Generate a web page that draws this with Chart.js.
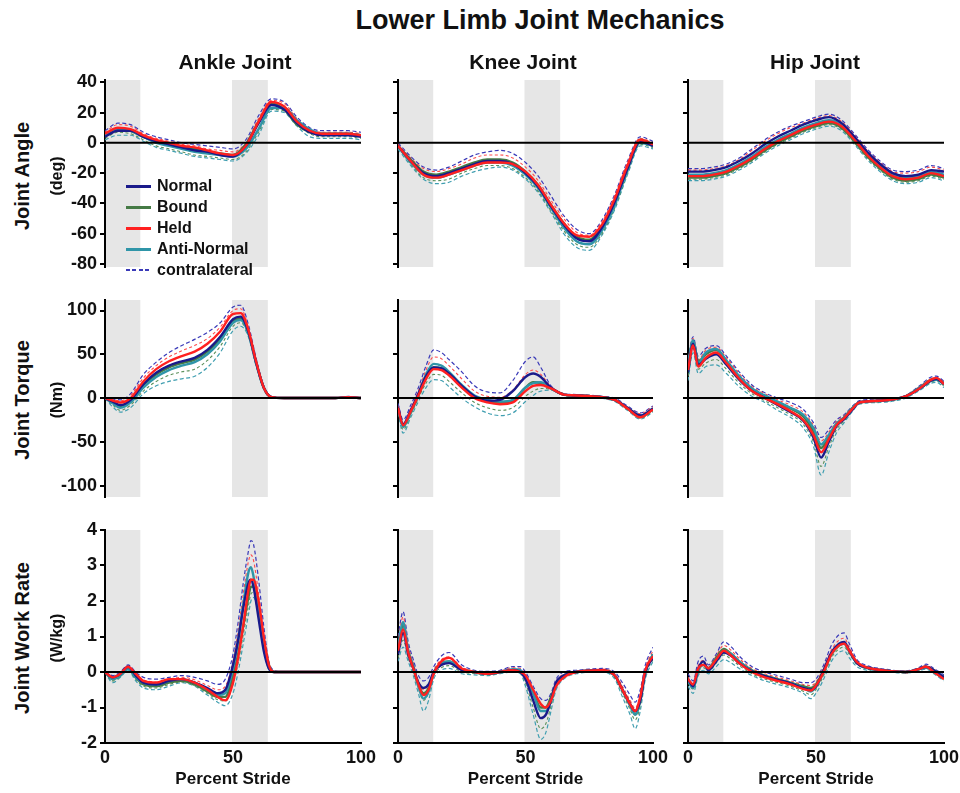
<!DOCTYPE html>
<html><head><meta charset="utf-8">
<script src="https://cdn.jsdelivr.net/npm/chart.js@4.4.1/dist/chart.umd.min.js"></script>
<style>
body{margin:0;background:#fff;width:960px;height:793px;position:relative;overflow:hidden;font-family:'Liberation Sans',Arial,Helvetica,sans-serif;}
canvas{position:absolute;}
.t{position:absolute;font-weight:bold;color:#111;white-space:nowrap;transform:translate(-50%,-50%);}
.r{position:absolute;font-weight:bold;color:#111;white-space:nowrap;transform:translate(-50%,-50%) rotate(-90deg);}
.lg{position:absolute;font-weight:bold;color:#111;font-size:16px;white-space:nowrap;transform:translateY(-50%);}
.sw{position:absolute;width:25px;}
</style></head><body>
<script>
// ---------------- DATA ----------------
const CHART_TITLE = 'Lower Limb Joint Mechanics';
const COLUMN_TITLES = ['Ankle Joint', 'Knee Joint', 'Hip Joint'];
const ROW_TITLES = ['Joint Angle', 'Joint Torque', 'Joint Work Rate'];
const ROW_UNITS = ['(deg)', '(Nm)', '(W/kg)'];
const X_TITLE = 'Percent Stride';
const SERIES_NAMES = ['Normal', 'Bound', 'Held', 'Anti-Normal', 'contralateral'];
const ANGLE_TICKS = [-80, -60, -40, -20, 0, 20, 40];
const TORQUE_TICKS = [-100, -50, 0, 50, 100];
const POWER_TICKS = [-2, -1, 0, 1, 2, 3, 4];
const STRIDE_TICKS = [0, 50, 100];
const STANCE_BANDS = [[0, 13.8], [49.6, 63.6]];

const GRID5 = [0, 5, 10, 15, 20, 25, 30, 35, 40, 45, 50, 55, 60, 65, 70, 75, 80, 85, 90, 95, 100];

// Ankle angle (deg)
const ANKLE_ANGLE_NORMAL = [4, 8, 8, 4, 1, -1, -3, -5, -6, -8, -9, -2, 13, 25, 22, 13, 7, 5, 5, 5, 4];
const ANKLE_ANGLE_BOUND  = [5, 9, 8, 4, 1, -1, -3, -4, -6, -7, -8, -1, 14, 26, 22, 12, 7, 6, 6, 6, 5];
const ANKLE_ANGLE_HELD   = [6, 10, 9, 5, 2, 0, -2, -3, -5, -7, -8, -2, 14, 27, 24, 14, 8, 6, 6, 6, 5];
const ANKLE_ANGLE_ANTI   = [5, 9, 8, 4, 0, -2, -4, -6, -7, -8, -9, -4, 9, 23, 23, 15, 9, 6, 6, 6, 5];
const ANKLE_ANGLE_CONTRA_HI = [8, 13, 12, 7, 4, 2, 0, -1, -2, -3, -4, 2, 18, 29, 27, 17, 10, 8, 8, 8, 7];
const ANKLE_ANGLE_CONTRA_LO = [2, 5, 5, 1, -3, -5, -7, -9, -10, -11, -12, -7, 5, 21, 20, 11, 4, 3, 3, 3, 2];
const ANKLE_ANGLE_SD_HI = [7, 12, 11, 6, 3, 1, -1, -2, -4, -5, -6, 0, 16, 28, 26, 16, 9, 7, 7, 7, 6];
const ANKLE_ANGLE_SD_LO = [3, 7, 6, 2, -2, -4, -6, -8, -9, -10, -11, -6, 7, 22, 21, 13, 6, 4, 4, 4, 3];

// Knee angle (deg)
const KNEE_ANGLE_NORMAL = [-2, -12, -20, -22, -20, -17, -14, -12, -12, -14, -20, -29, -42, -54, -63, -65, -56, -39, -17, 1, -2];
const KNEE_ANGLE_BOUND  = [-2, -11, -19, -21, -19, -16, -13, -11, -11, -13, -19, -28, -41, -53, -62, -64, -55, -38, -16, 2, -1];
const KNEE_ANGLE_HELD   = [-2, -12, -21, -23, -21, -18, -15, -13, -13, -14, -19, -28, -41, -53, -61, -62, -54, -37, -15, 2, -1];
const KNEE_ANGLE_ANTI   = [-2, -13, -21, -23, -21, -18, -15, -13, -13, -15, -21, -30, -43, -56, -65, -67, -58, -41, -18, 0, -2];
const KNEE_ANGLE_CONTRA_HI = [0, -9, -16, -18, -16, -12, -8, -6, -5, -7, -13, -22, -35, -48, -57, -60, -51, -34, -12, 4, 1];
const KNEE_ANGLE_CONTRA_LO = [-4, -15, -24, -27, -26, -22, -19, -17, -16, -18, -24, -33, -46, -60, -69, -71, -61, -44, -21, -2, -4];
const KNEE_ANGLE_SD_HI = [-1, -10, -17, -19, -17, -14, -10, -8, -8, -10, -16, -25, -38, -50, -59, -61, -52, -35, -13, 3, 0];
const KNEE_ANGLE_SD_LO = [-3, -14, -23, -25, -24, -20, -17, -15, -15, -17, -23, -32, -45, -58, -67, -69, -60, -43, -20, -1, -3];

// Hip angle (deg)
const HIP_ANGLE_NORMAL = [-19, -19, -18, -16, -12, -7, -1, 4, 8, 12, 15, 17, 13, 4, -6, -14, -20, -22, -21, -18, -19];
const HIP_ANGLE_BOUND  = [-23, -23, -22, -20, -16, -11, -5, 0, 4, 8, 11, 13, 10, 1, -9, -17, -23, -25, -24, -21, -23];
const HIP_ANGLE_HELD   = [-22, -22, -21, -19, -15, -10, -4, 1, 5, 9, 12, 14, 11, 2, -8, -16, -22, -24, -23, -20, -22];
const HIP_ANGLE_ANTI   = [-21, -21, -20, -18, -14, -9, -3, 2, 6, 10, 13, 15, 12, 3, -7, -15, -21, -23, -22, -19, -21];
const HIP_ANGLE_CONTRA_HI = [-17, -17, -16, -14, -10, -4, 2, 7, 11, 14, 17, 19, 15, 6, -4, -12, -18, -19, -18, -15, -17];
const HIP_ANGLE_CONTRA_LO = [-25, -25, -24, -22, -18, -13, -7, -2, 2, 6, 9, 11, 8, -1, -11, -19, -25, -27, -26, -23, -25];
const HIP_ANGLE_SD_HI = [-18, -18, -17, -15, -11, -5, 1, 6, 10, 13, 16, 18, 14, 5, -5, -13, -19, -20, -19, -16, -18];
const HIP_ANGLE_SD_LO = [-24, -24, -23, -21, -17, -12, -6, -1, 3, 7, 10, 12, 9, 0, -10, -18, -24, -26, -25, -22, -24];

// Ankle torque (Nm)
const ANKLE_TORQUE_X = [0, 3, 6, 10, 15, 20, 25, 30, 35, 40, 45, 50, 53, 56, 59, 62, 65, 70, 80, 90, 95, 100];
const ANKLE_TORQUE_NORMAL = [0, -4, -8, -2, 16, 29, 37, 42, 46, 55, 70, 90, 93, 76, 41, 12, 1, 0, 0, 0, 1, 0];
const ANKLE_TORQUE_BOUND  = [0, -5, -9, -3, 15, 27, 35, 40, 44, 53, 68, 88, 91, 75, 41, 12, 1, 0, 0, 0, 1, 0];
const ANKLE_TORQUE_HELD   = [0, -3, -5, 0, 19, 33, 42, 48, 53, 62, 76, 96, 97, 78, 42, 12, 1, 0, 0, 0, 1, 0];
const ANKLE_TORQUE_ANTI   = [0, -6, -11, -5, 12, 24, 32, 37, 41, 50, 65, 86, 89, 74, 40, 12, 1, 0, 0, 0, 1, 0];
const ANKLE_TORQUE_CONTRA_HI = [0, -1, -2, 5, 27, 41, 52, 60, 67, 75, 86, 104, 106, 84, 46, 14, 2, 0, 0, 0, 2, 0];
const ANKLE_TORQUE_CONTRA_LO = [0, -10, -16, -11, 5, 14, 19, 22, 25, 35, 52, 77, 82, 70, 37, 10, 0, 0, 0, 0, 0, 0];
const ANKLE_TORQUE_SD_HI = [0, -2, -3, 3, 23, 37, 47, 54, 60, 68, 81, 100, 102, 81, 44, 13, 1, 0, 0, 0, 1, 0];
const ANKLE_TORQUE_SD_LO = [0, -8, -14, -8, 8, 19, 26, 30, 33, 43, 59, 82, 86, 72, 39, 11, 0, 0, 0, 0, 1, 0];

// Knee torque (Nm)
const KNEE_TORQUE_X = [0, 2, 5, 8, 11, 14, 17, 20, 25, 30, 35, 40, 45, 50, 53, 56, 60, 65, 70, 80, 85, 90, 95, 100];
const KNEE_TORQUE_NORMAL = [-10, -30, -14, 5, 25, 35, 34, 28, 14, 2, -3, -2, 8, 24, 28, 24, 12, 4, 3, 1, -2, -11, -20, -12];
const KNEE_TORQUE_BOUND  = [-12, -32, -16, 3, 24, 35, 34, 28, 13, 1, -4, -5, -3, 12, 18, 17, 11, 4, 3, 1, -2, -12, -21, -13];
const KNEE_TORQUE_HELD   = [-11, -31, -15, 3, 22, 33, 32, 26, 12, 0, -5, -7, -5, 8, 14, 15, 11, 4, 3, 1, -2, -12, -22, -13];
const KNEE_TORQUE_ANTI   = [-12, -33, -16, 4, 27, 39, 37, 30, 15, 3, -2, -4, -2, 12, 17, 18, 11, 4, 3, 1, -2, -11, -20, -12];
const KNEE_TORQUE_CONTRA_HI = [-6, -25, -8, 12, 37, 55, 52, 44, 30, 14, 7, 6, 20, 42, 47, 35, 14, 5, 4, 2, 0, -9, -17, -9];
const KNEE_TORQUE_CONTRA_LO = [-16, -40, -22, -4, 12, 21, 20, 13, 0, -10, -17, -20, -17, -4, 3, 8, 9, 3, 2, 0, -4, -14, -24, -16];
const KNEE_TORQUE_SD_HI = [-9, -29, -12, 8, 32, 47, 45, 37, 22, 8, 2, 1, 9, 27, 32, 27, 13, 5, 3, 1, -1, -10, -18, -10];
const KNEE_TORQUE_SD_LO = [-14, -36, -19, 0, 17, 27, 26, 19, 6, -5, -11, -14, -11, 2, 8, 11, 10, 3, 2, 0, -3, -13, -23, -15];

// Hip torque (Nm)
const HIP_TORQUE_X = [0, 2, 4, 7, 11, 15, 20, 25, 30, 35, 40, 45, 49, 52, 55, 58, 61, 64, 67, 75, 85, 90, 95, 97, 100];
const HIP_TORQUE_NORMAL = [30, 62, 38, 45, 50, 38, 21, 8, 0, -8, -16, -26, -45, -68, -50, -32, -24, -14, -5, -3, 2, 10, 20, 22, 16];
const HIP_TORQUE_BOUND  = [35, 65, 42, 50, 55, 42, 24, 10, 2, -5, -12, -21, -38, -57, -44, -30, -22, -12, -5, -3, 2, 11, 21, 22, 17];
const HIP_TORQUE_HELD   = [32, 60, 36, 46, 52, 40, 22, 8, 0, -7, -15, -25, -42, -62, -47, -31, -23, -13, -5, -3, 2, 10, 21, 23, 16];
const HIP_TORQUE_ANTI   = [38, 66, 40, 52, 56, 43, 25, 11, 3, -4, -11, -19, -34, -53, -42, -29, -22, -12, -5, -3, 2, 11, 20, 21, 16];
const HIP_TORQUE_CONTRA_HI = [45, 70, 48, 57, 60, 48, 30, 15, 6, 0, -5, -13, -28, -45, -36, -25, -19, -10, -3, -1, 3, 13, 24, 25, 19];
const HIP_TORQUE_CONTRA_LO = [20, 52, 28, 36, 38, 28, 13, 2, -5, -14, -22, -34, -55, -88, -62, -40, -28, -16, -7, -5, 0, 8, 17, 18, 12];
const HIP_TORQUE_SD_HI = [42, 68, 44, 55, 58, 46, 28, 13, 5, -2, -8, -16, -31, -49, -39, -27, -20, -11, -4, -2, 2, 12, 22, 23, 18];
const HIP_TORQUE_SD_LO = [25, 57, 33, 40, 44, 33, 17, 5, -3, -11, -19, -30, -50, -78, -56, -36, -26, -15, -6, -4, 1, 9, 18, 20, 14];

// Ankle work rate (W/kg)
const ANKLE_POWER_X = [0, 3, 6, 9, 12, 15, 20, 25, 30, 35, 40, 44, 47, 50, 52, 54, 56, 57, 58, 60, 62, 64, 66, 70, 80, 90, 100];
const ANKLE_POWER_NORMAL = [0, -0.15, -0.05, 0.15, -0.1, -0.3, -0.35, -0.25, -0.2, -0.3, -0.45, -0.6, -0.5, 0.2, 0.9, 1.8, 2.5, 2.6, 2.4, 1.5, 0.6, 0.1, 0, 0, 0, 0, 0];
const ANKLE_POWER_BOUND  = [0, -0.2, -0.1, 0.1, -0.15, -0.35, -0.4, -0.3, -0.25, -0.35, -0.55, -0.7, -0.7, -0.1, 0.5, 1.3, 2.1, 2.4, 2.4, 1.8, 0.9, 0.2, 0, 0, 0, 0, 0];
const ANKLE_POWER_HELD   = [0, -0.15, -0.05, 0.15, -0.05, -0.25, -0.3, -0.2, -0.2, -0.3, -0.5, -0.7, -0.8, -0.3, 0.4, 1.3, 2.3, 2.6, 2.6, 2.0, 1.0, 0.2, 0, 0, 0, 0, 0];
const ANKLE_POWER_ANTI   = [0, -0.2, -0.1, 0.1, -0.15, -0.3, -0.35, -0.25, -0.2, -0.3, -0.5, -0.65, -0.6, 0.1, 0.9, 1.9, 2.8, 2.95, 2.7, 1.8, 0.8, 0.1, 0, 0, 0, 0, 0];
const ANKLE_POWER_CONTRA_HI = [0, -0.1, 0, 0.2, 0, -0.15, -0.2, -0.15, -0.1, -0.15, -0.25, -0.35, -0.2, 0.5, 1.4, 2.5, 3.4, 3.7, 3.6, 2.6, 1.3, 0.3, 0.05, 0, 0, 0, 0];
const ANKLE_POWER_CONTRA_LO = [0, -0.3, -0.15, 0.05, -0.25, -0.45, -0.5, -0.4, -0.3, -0.4, -0.65, -0.85, -0.95, -0.6, 0, 0.8, 1.6, 2.0, 2.1, 1.6, 0.7, 0.1, 0, 0, 0, 0, 0];
const ANKLE_POWER_SD_HI = [0, -0.15, -0.05, 0.15, -0.08, -0.22, -0.28, -0.2, -0.15, -0.22, -0.38, -0.5, -0.4, 0.3, 1.15, 2.2, 3.1, 3.3, 3.15, 2.2, 1.05, 0.2, 0.02, 0, 0, 0, 0];
const ANKLE_POWER_SD_LO = [0, -0.25, -0.12, 0.08, -0.2, -0.4, -0.45, -0.35, -0.28, -0.38, -0.6, -0.78, -0.82, -0.35, 0.25, 1.05, 1.85, 2.2, 2.25, 1.7, 0.8, 0.15, 0, 0, 0, 0, 0];

// Knee work rate (W/kg)
const KNEE_POWER_X = [0, 2, 4, 6, 8, 10, 12, 14, 17, 20, 25, 30, 35, 40, 45, 48, 50, 53, 56, 58, 60, 62, 65, 70, 80, 85, 88, 91, 93, 95, 97, 100];
const KNEE_POWER_NORMAL = [0.5, 1.1, 0.5, 0.1, -0.3, -0.45, -0.35, 0, 0.2, 0.25, 0.05, 0, -0.05, 0, 0.05, 0, -0.2, -0.8, -1.3, -1.2, -0.8, -0.3, -0.1, 0, 0.05, -0.1, -0.5, -0.9, -1.1, -0.8, 0, 0.4];
const KNEE_POWER_BOUND  = [0.6, 1.3, 0.6, 0.15, -0.35, -0.6, -0.45, 0, 0.25, 0.3, 0.08, 0, -0.05, 0, 0.05, 0, -0.15, -0.6, -1.0, -1.0, -0.7, -0.35, -0.1, 0, 0.05, -0.1, -0.5, -0.9, -1.2, -0.8, 0, 0.5];
const KNEE_POWER_HELD   = [0.6, 1.2, 0.55, 0.1, -0.35, -0.65, -0.5, -0.05, 0.3, 0.4, 0.1, 0, -0.05, 0, 0.05, 0, -0.1, -0.5, -0.9, -1.0, -0.8, -0.4, -0.15, 0, 0.05, -0.1, -0.5, -0.9, -1.1, -0.7, 0.05, 0.45];
const KNEE_POWER_ANTI   = [0.7, 1.4, 0.6, 0.15, -0.4, -0.75, -0.55, -0.05, 0.25, 0.3, 0.08, 0, -0.05, 0, 0.08, 0.05, -0.15, -0.6, -1.1, -1.1, -0.8, -0.35, -0.1, 0, 0.05, -0.1, -0.5, -0.95, -1.2, -0.8, 0, 0.5];
const KNEE_POWER_CONTRA_HI = [1.0, 1.7, 0.85, 0.35, -0.1, -0.25, -0.15, 0.15, 0.45, 0.55, 0.2, 0.05, 0.02, 0.05, 0.15, 0.15, 0, -0.4, -0.75, -0.8, -0.6, -0.2, 0, 0.05, 0.1, 0, -0.3, -0.65, -0.85, -0.5, 0.2, 0.7];
const KNEE_POWER_CONTRA_LO = [0.3, 0.7, 0.3, -0.1, -0.6, -1.1, -0.8, -0.2, 0.05, 0.1, -0.05, -0.08, -0.1, -0.05, 0, -0.05, -0.4, -1.2, -1.9, -1.7, -1.1, -0.5, -0.2, -0.05, 0, -0.2, -0.7, -1.2, -1.6, -1.1, -0.2, 0.3];
const KNEE_POWER_SD_HI = [0.85, 1.55, 0.72, 0.25, -0.25, -0.5, -0.35, 0.05, 0.35, 0.42, 0.14, 0.02, -0.02, 0.02, 0.12, 0.1, -0.08, -0.5, -0.92, -0.95, -0.7, -0.28, -0.05, 0.02, 0.08, -0.05, -0.4, -0.8, -1.02, -0.65, 0.1, 0.6];
const KNEE_POWER_SD_LO = [0.4, 0.9, 0.4, 0, -0.45, -0.8, -0.58, -0.1, 0.12, 0.18, 0, -0.04, -0.08, -0.02, 0.02, -0.02, -0.3, -1.0, -1.6, -1.45, -0.95, -0.4, -0.15, -0.02, 0.02, -0.15, -0.6, -1.05, -1.35, -0.95, -0.1, 0.35];

// Hip work rate (W/kg)
const HIP_POWER_X = [0, 2, 4, 6, 8, 11, 14, 17, 20, 25, 30, 35, 40, 45, 48, 50, 53, 56, 59, 61, 63, 66, 70, 75, 85, 90, 93, 96, 100];
const HIP_POWER_NORMAL = [-0.2, -0.4, 0.1, 0.3, 0.05, 0.3, 0.55, 0.45, 0.25, 0.02, -0.12, -0.22, -0.32, -0.45, -0.5, -0.4, 0.05, 0.55, 0.8, 0.85, 0.6, 0.25, 0.12, 0.06, 0, 0.08, 0.15, 0.05, -0.15];
const HIP_POWER_BOUND  = [-0.25, -0.45, 0.05, 0.2, 0.1, 0.4, 0.65, 0.5, 0.3, 0.05, -0.1, -0.2, -0.3, -0.4, -0.45, -0.35, 0.05, 0.5, 0.75, 0.8, 0.6, 0.25, 0.12, 0.06, 0, 0.08, 0.15, 0.05, -0.15];
const HIP_POWER_HELD   = [-0.2, -0.35, 0.1, 0.2, 0.1, 0.35, 0.6, 0.45, 0.25, 0, -0.15, -0.25, -0.35, -0.48, -0.52, -0.38, 0, 0.5, 0.75, 0.8, 0.6, 0.28, 0.12, 0.06, 0, 0.08, 0.15, 0, -0.2];
const HIP_POWER_ANTI   = [-0.25, -0.45, 0.05, 0.2, 0.05, 0.35, 0.6, 0.5, 0.3, 0.03, -0.12, -0.22, -0.32, -0.45, -0.55, -0.42, 0, 0.5, 0.75, 0.8, 0.58, 0.25, 0.12, 0.06, 0, 0.08, 0.12, 0.05, -0.15];
const HIP_POWER_CONTRA_HI = [-0.05, -0.25, 0.3, 0.45, 0.2, 0.5, 0.85, 0.7, 0.45, 0.15, 0, -0.1, -0.2, -0.3, -0.3, -0.2, 0.2, 0.75, 1.05, 1.1, 0.8, 0.35, 0.18, 0.1, 0.03, 0.12, 0.22, 0.1, -0.08];
const HIP_POWER_CONTRA_LO = [-0.4, -0.6, -0.1, 0.05, -0.05, 0.15, 0.35, 0.25, 0.1, -0.1, -0.25, -0.35, -0.45, -0.6, -0.75, -0.6, -0.2, 0.3, 0.55, 0.6, 0.4, 0.15, 0.05, 0.02, -0.03, 0.03, 0.08, -0.05, -0.25];
const HIP_POWER_SD_HI = [-0.15, -0.35, 0.18, 0.32, 0.15, 0.45, 0.75, 0.6, 0.38, 0.1, -0.05, -0.15, -0.25, -0.35, -0.38, -0.28, 0.12, 0.62, 0.9, 0.95, 0.7, 0.3, 0.15, 0.08, 0.02, 0.1, 0.18, 0.08, -0.12];
const HIP_POWER_SD_LO = [-0.3, -0.48, 0, 0.12, 0.02, 0.25, 0.48, 0.35, 0.18, -0.05, -0.2, -0.3, -0.4, -0.54, -0.64, -0.49, -0.1, 0.4, 0.65, 0.7, 0.5, 0.22, 0.08, 0.04, -0.02, 0.05, 0.12, -0.02, -0.22];

// ---------------- ASSEMBLY ----------------
const PANELS = [
  [
    {x: GRID5, s: [ANKLE_ANGLE_NORMAL, ANKLE_ANGLE_BOUND, ANKLE_ANGLE_HELD, ANKLE_ANGLE_ANTI], hi: ANKLE_ANGLE_CONTRA_HI, lo: ANKLE_ANGLE_CONTRA_LO, sdHi: ANKLE_ANGLE_SD_HI, sdLo: ANKLE_ANGLE_SD_LO},
    {x: GRID5, s: [KNEE_ANGLE_NORMAL, KNEE_ANGLE_BOUND, KNEE_ANGLE_HELD, KNEE_ANGLE_ANTI], hi: KNEE_ANGLE_CONTRA_HI, lo: KNEE_ANGLE_CONTRA_LO, sdHi: KNEE_ANGLE_SD_HI, sdLo: KNEE_ANGLE_SD_LO},
    {x: GRID5, s: [HIP_ANGLE_NORMAL, HIP_ANGLE_BOUND, HIP_ANGLE_HELD, HIP_ANGLE_ANTI], hi: HIP_ANGLE_CONTRA_HI, lo: HIP_ANGLE_CONTRA_LO, sdHi: HIP_ANGLE_SD_HI, sdLo: HIP_ANGLE_SD_LO}
  ],
  [
    {x: ANKLE_TORQUE_X, s: [ANKLE_TORQUE_NORMAL, ANKLE_TORQUE_BOUND, ANKLE_TORQUE_HELD, ANKLE_TORQUE_ANTI], hi: ANKLE_TORQUE_CONTRA_HI, lo: ANKLE_TORQUE_CONTRA_LO, sdHi: ANKLE_TORQUE_SD_HI, sdLo: ANKLE_TORQUE_SD_LO},
    {x: KNEE_TORQUE_X, s: [KNEE_TORQUE_NORMAL, KNEE_TORQUE_BOUND, KNEE_TORQUE_HELD, KNEE_TORQUE_ANTI], hi: KNEE_TORQUE_CONTRA_HI, lo: KNEE_TORQUE_CONTRA_LO, sdHi: KNEE_TORQUE_SD_HI, sdLo: KNEE_TORQUE_SD_LO},
    {x: HIP_TORQUE_X, s: [HIP_TORQUE_NORMAL, HIP_TORQUE_BOUND, HIP_TORQUE_HELD, HIP_TORQUE_ANTI], hi: HIP_TORQUE_CONTRA_HI, lo: HIP_TORQUE_CONTRA_LO, sdHi: HIP_TORQUE_SD_HI, sdLo: HIP_TORQUE_SD_LO}
  ],
  [
    {x: ANKLE_POWER_X, s: [ANKLE_POWER_NORMAL, ANKLE_POWER_BOUND, ANKLE_POWER_HELD, ANKLE_POWER_ANTI], hi: ANKLE_POWER_CONTRA_HI, lo: ANKLE_POWER_CONTRA_LO, sdHi: ANKLE_POWER_SD_HI, sdLo: ANKLE_POWER_SD_LO},
    {x: KNEE_POWER_X, s: [KNEE_POWER_NORMAL, KNEE_POWER_BOUND, KNEE_POWER_HELD, KNEE_POWER_ANTI], hi: KNEE_POWER_CONTRA_HI, lo: KNEE_POWER_CONTRA_LO, sdHi: KNEE_POWER_SD_HI, sdLo: KNEE_POWER_SD_LO},
    {x: HIP_POWER_X, s: [HIP_POWER_NORMAL, HIP_POWER_BOUND, HIP_POWER_HELD, HIP_POWER_ANTI], hi: HIP_POWER_CONTRA_HI, lo: HIP_POWER_CONTRA_LO, sdHi: HIP_POWER_SD_HI, sdLo: HIP_POWER_SD_LO}
  ]
];
const ROW_TICKS = [ANGLE_TICKS, TORQUE_TICKS, POWER_TICKS];

// ---------------- STYLE / LAYOUT ----------------
const FONT = "'Liberation Sans', Arial, Helvetica, sans-serif";
const COLORS = ['#1a1a8a', '#457a45', '#ff2020', '#2f95a8'];
const CONTRA_HI_COLOR = '#3a3ab8';
const CONTRA_LO_COLOR = '#3f9eb0';
const SD_HI_COLOR = '#ff4a4a';
const SD_LO_COLOR = '#5a8f5a';
const BAND_COLOR = '#e6e6e6';
const COL_GEOM = [{x0: 104.5, x1: 360.5}, {x0: 397.5, x1: 653}, {x0: 688, x1: 944}];
const ROW_GEOM = [
  {top: 80, bottom: 273, min: -82, max: 41.5},
  {top: 300, bottom: 503, min: -113, max: 112},
  {top: 530, bottom: 743, min: -2, max: 4}
];
const ML = 60, MR = 20, MT = 14;

function addText(cls, txt, x, y, size) {
  const d = document.createElement('div');
  d.className = cls; d.textContent = txt;
  d.style.left = x + 'px'; d.style.top = y + 'px'; d.style.fontSize = size + 'px';
  document.body.appendChild(d);
  return d;
}

const bandPlugin = {
  id: 'stanceBands',
  beforeDraw(chart) {
    const {ctx, chartArea: a, scales: {x}} = chart;
    ctx.save();
    ctx.fillStyle = BAND_COLOR;
    STANCE_BANDS.forEach(([s, e]) => {
      const p0 = x.getPixelForValue(s), p1 = x.getPixelForValue(e);
      ctx.fillRect(p0, a.top, p1 - p0, a.bottom - a.top);
    });
    ctx.restore();
  }
};
const zeroPlugin = {
  id: 'zeroLine',
  afterDatasetsDraw(chart) {
    const {ctx, chartArea: a, scales: {y}} = chart;
    const py = y.getPixelForValue(0);
    ctx.save();
    ctx.strokeStyle = '#000'; ctx.lineWidth = 2;
    ctx.beginPath(); ctx.moveTo(a.left, py); ctx.lineTo(a.right, py); ctx.stroke();
    ctx.restore();
  }
};

function pts(xs, ys) { return xs.map((v, i) => ({x: v, y: ys[i]})); }

for (let r = 0; r < 3; r++) {
  for (let c = 0; c < 3; c++) {
    const P = PANELS[r][c], cg = COL_GEOM[c], rg = ROW_GEOM[r];
    const MB = r === 2 ? 50 : 6;
    const cv = document.createElement('canvas');
    const W = (cg.x1 - cg.x0) + ML + MR, H = (rg.bottom - rg.top) + MT + MB;
    cv.width = W; cv.height = H;
    cv.style.left = (cg.x0 - ML) + 'px'; cv.style.top = (rg.top - MT) + 'px';
    cv.style.width = W + 'px'; cv.style.height = H + 'px';
    document.body.appendChild(cv);

    const datasets = [];
    datasets.push({label: 'contralateral', data: pts(P.x, P.hi), borderColor: CONTRA_HI_COLOR, borderWidth: 1.2, borderDash: [4, 2.5], order: 10});
    datasets.push({label: 'contralateral', data: pts(P.x, P.lo), borderColor: CONTRA_LO_COLOR, borderWidth: 1.2, borderDash: [4, 2.5], order: 11});
    datasets.push({label: 'sd', data: pts(P.x, P.sdHi), borderColor: SD_HI_COLOR, borderWidth: 1.1, borderDash: [3, 2.5], order: 8});
    datasets.push({label: 'sd', data: pts(P.x, P.sdLo), borderColor: SD_LO_COLOR, borderWidth: 1.1, borderDash: [3, 2.5], order: 9});
    const drawOrder = [1, 3, 0, 2];
    P.s.forEach((ys, i) => {
      datasets.push({label: SERIES_NAMES[i], data: pts(P.x, ys), borderColor: COLORS[i], borderWidth: 2.4, order: drawOrder[i]});
    });

    const ticks = ROW_TICKS[r];
    new Chart(cv, {
      type: 'line',
      data: {datasets},
      options: {
        responsive: false, animation: false, devicePixelRatio: 1,
        layout: {padding: {left: 0, right: MR, top: MT, bottom: r === 2 ? 0 : MB}},
        elements: {point: {radius: 0}, line: {cubicInterpolationMode: 'monotone', fill: false}},
        plugins: {legend: {display: false}, tooltip: {enabled: false}},
        scales: {
          x: {
            type: 'linear', min: 0, max: 100, display: r === 2,
            afterBuildTicks: s => { s.ticks = STRIDE_TICKS.map(v => ({value: v})); },
            afterFit: s => { s.height = MB; s.paddingLeft = 0; s.paddingRight = 0; s.paddingTop = 0; s.paddingBottom = 0; },
            grid: {display: false, drawTicks: false, tickLength: 0},
            border: {display: true, color: '#000', width: 2},
            ticks: {color: '#111', font: {family: FONT, size: 18, weight: 'bold'}, padding: 4, maxRotation: 0, autoSkip: false},
            title: {display: true, text: X_TITLE, color: '#111', font: {family: FONT, size: 17, weight: 'bold'}, padding: {top: 0, bottom: 3}}
          },
          y: {
            type: 'linear', min: rg.min, max: rg.max,
            afterBuildTicks: s => { s.ticks = ticks.map(v => ({value: v})); },
            afterFit: s => { s.width = ML; s.paddingTop = 0; s.paddingBottom = 0; s.paddingLeft = 0; s.paddingRight = 0; },
            grid: {display: true, drawOnChartArea: false, drawTicks: true, tickLength: 5, color: '#000', lineWidth: 2},
            border: {display: true, color: '#000', width: 2},
            ticks: {display: c === 0, color: '#111', font: {family: FONT, size: 18, weight: 'bold'}, padding: 3, autoSkip: false}
          }
        }
      },
      plugins: [bandPlugin, zeroPlugin]
    });
  }
}

// ---------------- TEXT ----------------
addText('t', CHART_TITLE, 540, 20, 27);
const colCenters = [235, 523, 815];
COLUMN_TITLES.forEach((t, i) => addText('t', t, colCenters[i], 62, 21));
const rowCenters = [176, 400, 638];
ROW_TITLES.forEach((t, i) => { addText('r', t, 22, rowCenters[i], 20); addText('r', ROW_UNITS[i], 57, rowCenters[i], 16); });

// legend (inside ankle-angle panel)
const legY = [186, 207, 228, 249, 270];
SERIES_NAMES.forEach((n, i) => {
  const sw = document.createElement('div');
  sw.className = 'sw';
  sw.style.left = '126px'; sw.style.top = (legY[i] - 1.5) + 'px';
  if (i < 4) { sw.style.height = '3px'; sw.style.background = COLORS[i]; }
  else { sw.style.height = '1.5px'; sw.style.top = (legY[i] - 0.75) + 'px'; sw.style.background = `repeating-linear-gradient(90deg, ${CONTRA_HI_COLOR} 0 4px, transparent 4px 6.5px)`; }
  document.body.appendChild(sw);
  addText('lg', n, 157, legY[i], 16);
});
</script>
</body></html>
